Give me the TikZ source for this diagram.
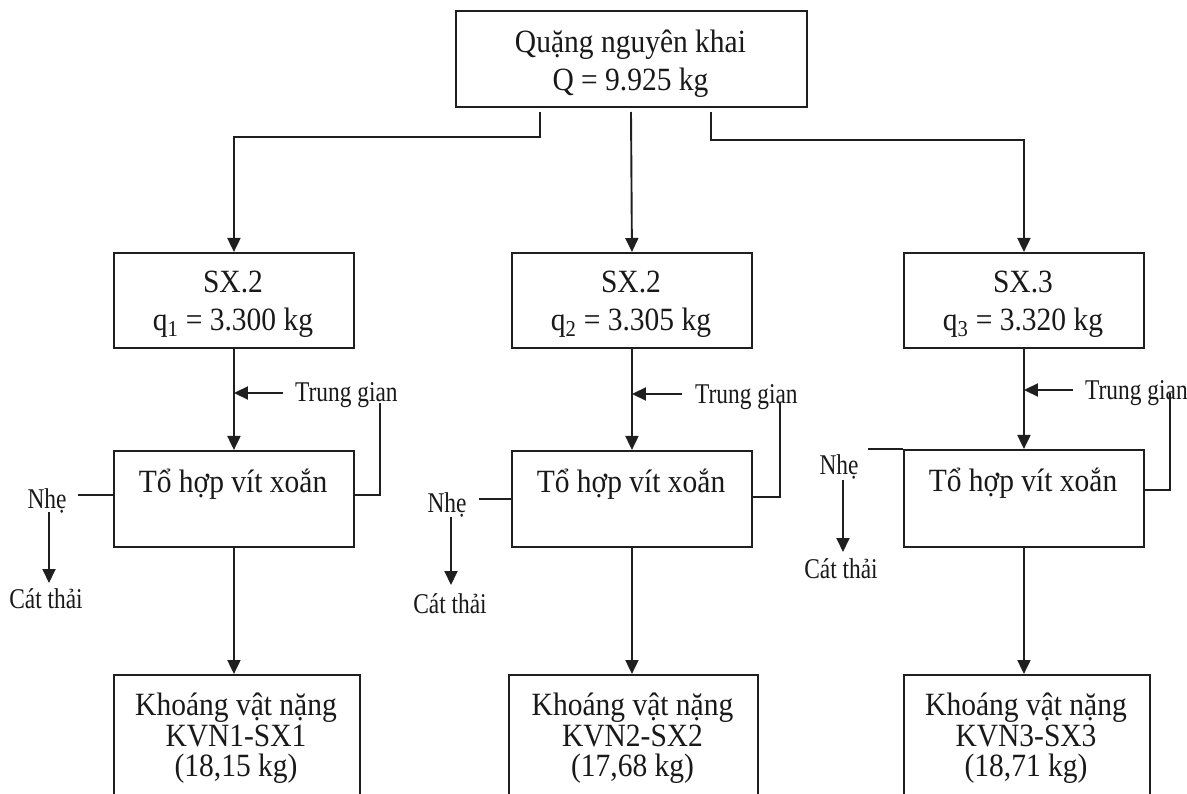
\documentclass[tikz,border=0pt]{standalone}
\usepackage{fontspec}
\usepackage{graphicx}
\setmainfont{Liberation Serif}
\usetikzlibrary{arrows.meta}
\newcommand\szmain{\fontsize{29.5}{36}\selectfont}
\newcommand\szsmall{\fontsize{26}{30}\selectfont}
\newcommand\tall[1]{\scalebox{1}[1.1]{#1}}
\newcommand\cond[1]{\scalebox{0.9}[1.1]{#1}}
\begin{document}
\begin{tikzpicture}[x=1pt,y=-1pt,
  ln/.style={line width=1.9pt, draw=black!88},
  box/.style={ln, rectangle, inner sep=0pt, anchor=north west},
  arr/.style={ln, -{Triangle[length=14pt,width=13pt]}},
  mt/.style={font=\szmain, anchor=base, inner sep=0pt, text=black!90},
  st/.style={font=\szsmall, inner sep=0pt, text=black!90},
]
\useasboundingbox (0,0) rectangle (1187,794);
\clip (0,0) rectangle (1187,794);
\fill[white] (0,0) rectangle (1187,794);

% boxes
\node[box, minimum width=351, minimum height=96] (q) at (455,10) {};
\node[box, minimum width=240, minimum height=95] (sx1) at (113,252) {};
\node[box, minimum width=240, minimum height=95] (sx2) at (511,252) {};
\node[box, minimum width=240, minimum height=95] (sx3) at (903,252) {};
\node[box, minimum width=240, minimum height=96] (th1) at (113,450) {};
\node[box, minimum width=240, minimum height=96] (th2) at (511,450) {};
\node[box, minimum width=240, minimum height=97] (th3) at (903,449) {};
\node[box, minimum width=246, minimum height=160] (kv1) at (113,674) {};
\node[box, minimum width=249, minimum height=160] (kv2) at (508,674) {};
\node[box, minimum width=246, minimum height=160] (kv3) at (903,674) {};

% box texts
\node[mt] (q-a) at (630.5,53) {\tall{Quặng nguyên khai}};
\node[mt] (q-b) at (630.5,91) {\tall{Q = 9.925 kg}};
\node[mt] (sx1-a) at (233,293) {\tall{SX.2}};
\node[mt] (sx1-b) at (233,331) {\tall{q\textsubscript{1} = 3.300 kg}};
\node[mt] (sx2-a) at (631,293) {\tall{SX.2}};
\node[mt] (sx2-b) at (631,331) {\tall{q\textsubscript{2} = 3.305 kg}};
\node[mt] (sx3-a) at (1023,293) {\tall{SX.3}};
\node[mt] (sx3-b) at (1023,331) {\tall{q\textsubscript{3} = 3.320 kg}};
\node[mt] (th1-a) at (233,492) {\tall{Tổ hợp vít xoắn}};
\node[mt] (th2-a) at (631,492) {\tall{Tổ hợp vít xoắn}};
\node[mt] (th3-a) at (1023,491) {\tall{Tổ hợp vít xoắn}};
\node[mt] (kv1-a) at (236,715) {\tall{Khoáng vật nặng}};
\node[mt] (kv1-b) at (236,746) {\tall{KVN1-SX1}};
\node[mt] (kv1-c) at (236,776) {\tall{(18,15 kg)}};
\node[mt] (kv2-a) at (632.5,715) {\tall{Khoáng vật nặng}};
\node[mt] (kv2-b) at (632.5,746) {\tall{KVN2-SX2}};
\node[mt] (kv2-c) at (632.5,776) {\tall{(17,68 kg)}};
\node[mt] (kv3-a) at (1026,715) {\tall{Khoáng vật nặng}};
\node[mt] (kv3-b) at (1026,746) {\tall{KVN3-SX3}};
\node[mt] (kv3-c) at (1026,776) {\tall{(18,71 kg)}};

% side labels
\node[st, anchor=base west] (tg1) at (295,402) {\cond{Trung gian}};
\node[st, anchor=base west] (tg2) at (695,403) {\cond{Trung gian}};
\node[st, anchor=base west] (tg3) at (1085,400) {\cond{Trung gian}};
\node[st, anchor=base] (nh1) at (47,508) {\cond{Nhẹ}};
\node[st, anchor=base] (nh2) at (447,512) {\cond{Nhẹ}};
\node[st, anchor=base] (nh3) at (839,475) {\cond{Nhẹ}};
\node[st, anchor=base] (ct1) at (46,608) {\cond{Cát thải}};
\node[st, anchor=base] (ct2) at (450,613) {\cond{Cát thải}};
\node[st, anchor=base] (ct3) at (841,578) {\cond{Cát thải}};

% top distribution
\coordinate (qs1) at (540,112); \coordinate (qj1) at (540,137);
\coordinate (qs2) at (631,112);
\coordinate (qs3) at (711,112); \coordinate (qj3) at (711,140);
\draw[arr] (qs1) -- (qj1) -| (sx1.north);
\draw[arr] (qs2) -- (sx2.north);
\draw[arr] (qs3) -- (qj3) -| (sx3.north);

% SX -> to hop
\draw[arr] (sx1.south) -- (th1.north);
\draw[arr] (sx2.south) -- (th2.north);
\draw[arr] (sx3.south) -- (th3.north);

% trung gian arrows
\coordinate (tg1s) at (283,393);
\coordinate (tg2s) at (682,394);
\coordinate (tg3s) at (1073,390);
\draw[arr] (tg1s) -- (tg1s -| sx1.south);
\draw[arr] (tg2s) -- (tg2s -| sx2.south);
\draw[arr] (tg3s) -- (tg3s -| sx3.south);

% loops back up
\coordinate (lp1) at (380,403);
\coordinate (lp2) at (780,403);
\coordinate (lp3) at (1170,393);
\draw[ln] (th1.east |- 0,495) -| (lp1);
\draw[ln] (th2.east |- 0,497) -| (lp2);
\draw[ln] (th3.east |- 0,490) -| (lp3);

% light fraction lines
\coordinate (nl1) at (78,495);
\coordinate (nl2) at (479,499);
\coordinate (nl3) at (868,449);
\draw[ln] (th1.west |- nl1) -- (nl1);
\draw[ln] (th2.west |- nl2) -- (nl2);
\draw[ln] (th3.north west) -- (nl3);

% waste arrows
\coordinate (ca1) at (49,512); \coordinate (cb1) at (49,583);
\coordinate (ca2) at (451,517); \coordinate (cb2) at (451,585);
\coordinate (ca3) at (843,480); \coordinate (cb3) at (843,552);
\draw[arr] (ca1) -- (cb1);
\draw[arr] (ca2) -- (cb2);
\draw[arr] (ca3) -- (cb3);

% to hop -> heavy minerals
\draw[arr] (th1.south) -- (th1.south |- kv1.north);
\draw[arr] (th2.south) -- (th2.south |- kv2.north);
\draw[arr] (th3.south) -- (th3.south |- kv3.north);
\end{tikzpicture}
\end{document}
